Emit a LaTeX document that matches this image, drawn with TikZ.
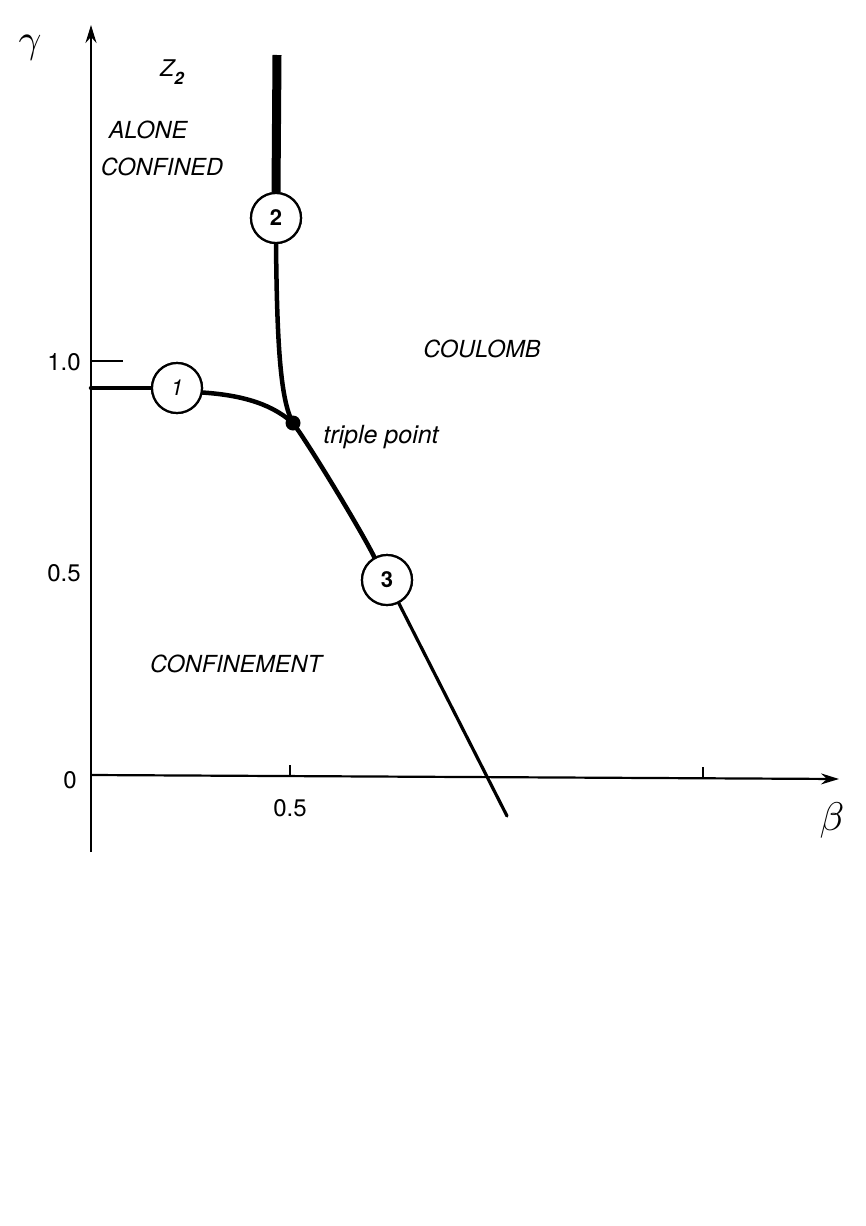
\documentclass[tikz,border=0pt]{standalone}
\usepackage{fontspec}
\setmainfont{TeX Gyre Heros}
\usetikzlibrary{arrows.meta}
\begin{document}
\begin{tikzpicture}[x=1pt,y=-1pt,
  axis/.style={line width=2.2pt,-{Stealth[length=18pt,width=11pt,inset=6pt]}},
  tickline/.style={line width=2pt},
  curve/.style={line width=4.5pt,line cap=round},
  thincurve/.style={line width=3.2pt,line cap=round},
  thickcurve/.style={line width=9pt},
  circ/.style={circle,draw,line width=2.2pt,fill=white,minimum size=50pt,inner sep=0pt,font=\fontsize{22}{24}\selectfont\bfseries},
  region/.style={font=\fontsize{23.5}{26}\selectfont\itshape},
  num/.style={font=\fontsize{24}{26}\selectfont},
  greek/.style={scale=4}
]
\useasboundingbox (0,0) rectangle (866,1226);
\fill[white] (0,0) rectangle (866,1226);

% axes
\coordinate (ybot) at (91,852);
\coordinate (ytop) at (91,25);
\coordinate (xl) at (91,775);
\coordinate (xr) at (839,779);
\draw[axis] (ybot) -- (ytop);
\draw[axis] (xl) -- (xr);

% ticks
\coordinate (t1a) at (91,361); \coordinate (t1b) at (123,361);
\draw[tickline] (t1a) -- (t1b);
\coordinate (t2a) at (290,776); \coordinate (t2b) at (290,765);
\draw[tickline] (t2a) -- (t2b);
\coordinate (t3a) at (703,778); \coordinate (t3b) at (703,767);
\draw[tickline] (t3a) -- (t3b);

% points
\node[circle,fill,minimum size=15pt,inner sep=0pt] (tp) at (293,423) {};
\coordinate (a1) at (91,388);
\coordinate (top2) at (277,55);
\coordinate (end3) at (507,816);

\node[circ] (c1) at (177,388) {};
\node[circ] (c2) at (276,218) {};
\node[circ] (c3) at (387,580) {};

% curves
\draw[curve] (a1) -- (c1.west);
\draw[curve] (c1.-10) .. controls (255,396) and (278,410) .. (tp.center);
\draw[curve] (tp.center) .. controls (310,446) and (362,532) .. (c3.119);
\draw[thincurve] (c3.-63) -- (end3);
\draw[thickcurve] (top2) -- (c2.north);
\draw[curve] (c2.south) .. controls (277,340) and (280,400) .. (tp.center);

% circles on top
\node[circ] (c1b) at (c1) {\mdseries\itshape 1};
\node[circ] (c2b) at (c2) {2};
\node[circ] (c3b) at (c3) {3};

% labels
\node[greek] (gam) at (30,48) {$\gamma$};
\node[greek] (bet) at (832,820) {$\beta$};
\node[font=\fontsize{23}{26}\selectfont\itshape] (z2) at (172,72) {Z\raisebox{-8pt}{\fontsize{17}{18}\selectfont\bfseries 2}};
\node[region] (alone) at (148,130) {ALONE};
\node[region] (conf) at (162,167) {CONFINED};
\node[region] (coul) at (482,349) {COULOMB};
\node[region] (confm) at (236,664) {CONFINEMENT};
\node[font=\fontsize{25}{27}\selectfont\itshape] (tpl) at (381,437) {triple\ point};
\node[num] (l10) at (64,362) {1.0};
\node[num] (l05) at (64,573) {0.5};
\node[num] (l0) at (70,780) {0};
\node[num] (b05) at (290,808) {0.5};
\end{tikzpicture}
\end{document}
